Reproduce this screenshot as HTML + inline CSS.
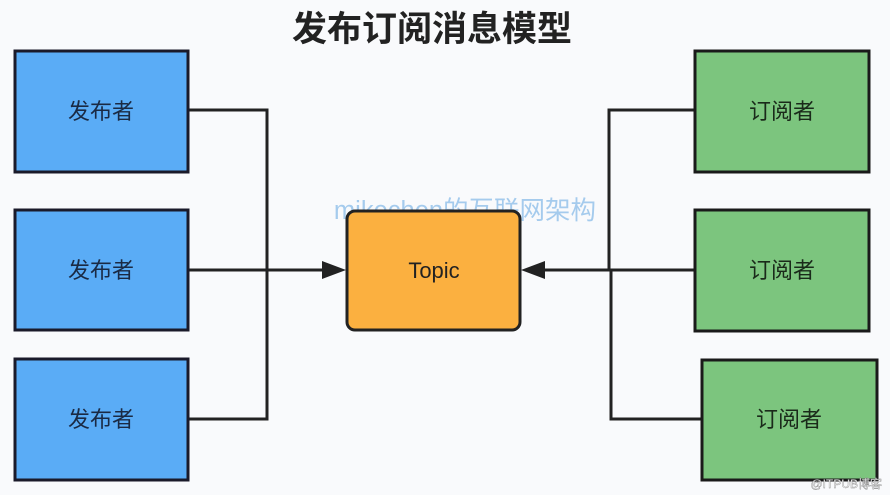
<!DOCTYPE html>
<html><head><meta charset="utf-8"><style>
html,body{margin:0;padding:0;background:#f9fafc;}
svg{display:block}
text{font-family:"Liberation Sans","Noto Sans CJK SC",sans-serif;}
</style></head><body>
<svg width="890" height="495" viewBox="0 0 890 495" xmlns="http://www.w3.org/2000/svg">
<rect width="890" height="495" fill="#f9fafc"/>
<text x="432" y="41" font-size="35" font-weight="bold" text-anchor="middle" fill="#222">发布订阅消息模型</text>
<g stroke="#222" stroke-width="3" fill="none">
<polyline points="188,110 267,110 267,419 188,419"/>
<line x1="188" y1="270" x2="325" y2="270"/>
<polyline points="695,110 609,110 609,270"/>
<polyline points="702,419 611,419 611,270"/>
<line x1="695" y1="270" x2="545" y2="270"/>
</g>
<polygon points="346,270 322,261 322,279" fill="#222"/>
<polygon points="521,270 545,261 545,279" fill="#222"/>
<text x="465" y="219" font-size="25.5" text-anchor="middle" fill="#9cc6ec" opacity="0.9">mikechen的互联网架构</text>
<g fill="#5aacf6" stroke="#1a1a2a" stroke-width="3">
<rect x="15" y="51" width="173" height="121"/>
<rect x="15" y="210" width="173" height="120"/>
<rect x="15" y="359" width="173" height="121"/>
</g>
<g font-size="22" fill="#1a2a44" text-anchor="middle">
<text x="101" y="119">发布者</text>
<text x="101" y="278">发布者</text>
<text x="101" y="427">发布者</text>
</g>
<rect x="347" y="211" width="173" height="119" rx="8" fill="#fbb040" stroke="#222" stroke-width="3"/>
<text x="434" y="278" font-size="22" text-anchor="middle" fill="#222">Topic</text>
<g fill="#7cc57e" stroke="#1a1a1a" stroke-width="3">
<rect x="695" y="51" width="174" height="121"/>
<rect x="695" y="210" width="174" height="121"/>
<rect x="702" y="360" width="175" height="120"/>
</g>
<g font-size="22" fill="#1a2a1a" text-anchor="middle">
<text x="782" y="119">订阅者</text>
<text x="782" y="278">订阅者</text>
<text x="789" y="427">订阅者</text>
</g>
<text x="882" y="488" font-size="12" text-anchor="end" fill="#ffffff" stroke="#888" stroke-width="0.4">@ITPUB博客</text>
</svg>
</body></html>
